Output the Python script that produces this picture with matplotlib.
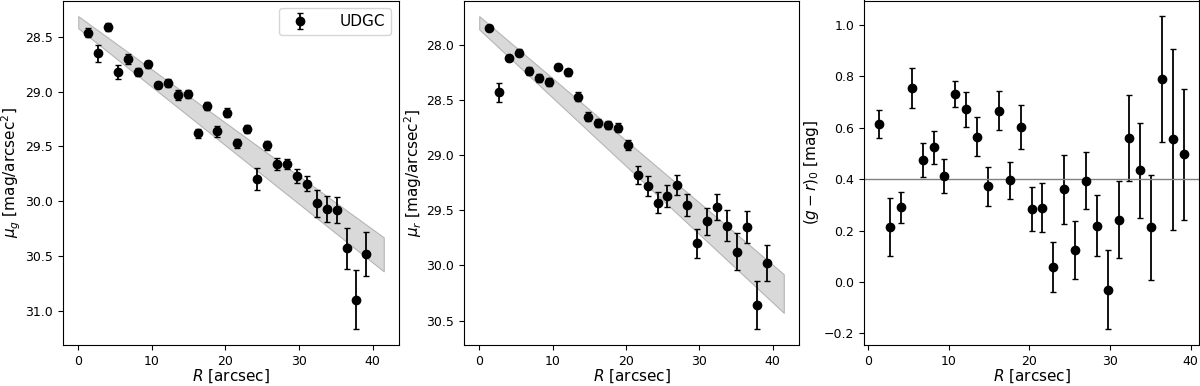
import matplotlib
matplotlib.use('agg')
import matplotlib.pyplot as plt

# radii (arcsec), shared by all three panels
R = [1.35, 2.7, 4.05, 5.4, 6.75, 8.1, 9.45, 10.8, 12.15, 13.5, 14.85, 16.2,
     17.55, 18.9, 20.25, 21.6, 22.95, 24.3, 25.65, 27.0, 28.35, 29.7, 31.05,
     32.4, 33.75, 35.1, 36.45, 37.8, 39.15]

mu_g = [28.46, 28.65, 28.41, 28.82, 28.70, 28.82, 28.75, 28.94, 28.92, 29.03,
        29.02, 29.38, 29.13, 29.36, 29.19, 29.47, 29.34, 29.80, 29.49, 29.66,
        29.66, 29.77, 29.84, 30.02, 30.07, 30.08, 30.43, 30.90, 30.48]
err_g = [0.038, 0.076, 0.038, 0.067, 0.047, 0.035, 0.035, 0.025, 0.035, 0.05,
         0.04, 0.04, 0.04, 0.05, 0.04, 0.04, 0.035, 0.10, 0.04, 0.055,
         0.05, 0.06, 0.07, 0.12, 0.12, 0.115, 0.19, 0.27, 0.20]

mu_r = [27.85, 28.43, 28.12, 28.07, 28.24, 28.30, 28.34, 28.20, 28.25, 28.47,
        28.65, 28.71, 28.73, 28.75, 28.91, 29.18, 29.28, 29.43, 29.37, 29.27,
        29.45, 29.80, 29.60, 29.47, 29.64, 29.875, 29.65, 30.36, 29.98]
err_r = [0.02, 0.085, 0.03, 0.03, 0.035, 0.035, 0.035, 0.03, 0.035, 0.04,
         0.04, 0.035, 0.035, 0.045, 0.045, 0.085, 0.087, 0.096, 0.1, 0.09,
         0.1, 0.13, 0.12, 0.12, 0.14, 0.165, 0.147, 0.22, 0.165]

gr = [0.615, 0.215, 0.290, 0.755, 0.474, 0.525, 0.413, 0.732, 0.672, 0.566,
      0.373, 0.667, 0.396, 0.603, 0.283, 0.289, 0.058, 0.361, 0.125, 0.394,
      0.219, -0.030, 0.241, 0.561, 0.435, 0.213, 0.790, 0.555, 0.497]
err_gr = [0.055, 0.113, 0.059, 0.079, 0.067, 0.064, 0.065, 0.052, 0.068, 0.077,
          0.076, 0.077, 0.072, 0.086, 0.086, 0.095, 0.099, 0.135, 0.113, 0.11,
          0.12, 0.155, 0.15, 0.168, 0.185, 0.205, 0.245, 0.354, 0.255]

# model bands (ends at R=0 and R=41.5)
R_band = [0.0, 41.5]
g_band_lo = [28.31, 30.33]
g_band_hi = [28.42, 30.64]
r_band_lo = [27.74, 30.08]
r_band_hi = [27.86, 30.43]
gr_mean = 0.4

plt.rcParams['font.family'] = ['DejaVu Sans']
plt.rcParams['xtick.labelsize'] = 9
plt.rcParams['ytick.labelsize'] = 9
plt.rcParams['axes.labelsize'] = 11

fig = plt.figure(figsize=(12, 3.86), dpi=100)
W, H = 1200.0, 386.0
bot = 41 / H
hgt = 344.5 / H
ax1 = fig.add_axes([63 / W, bot, 336 / W, hgt])
ax2 = fig.add_axes([464 / W, bot, 335 / W, hgt])
ax3 = fig.add_axes([864 / W, bot, 335 / W, hgt])

eb = dict(fmt='o', color='black', ms=6, elinewidth=1.3, capsize=2.5, capthick=1.0)

ax1.fill_between(R_band, g_band_lo, g_band_hi, facecolor='#d9d9d9',
                 edgecolor='#b5b5b5', lw=0.8)
ax1.errorbar(R, mu_g, yerr=err_g, label='UDGC', **eb)
ax1.invert_yaxis()
ax1.set_ylabel(r'$\mu_g$ [mag/arcsec$^2$]', labelpad=2)
ax1.legend(loc='upper right', fontsize=11, handletextpad=1.6)

ax2.fill_between(R_band, r_band_lo, r_band_hi, facecolor='#d9d9d9',
                 edgecolor='#b5b5b5', lw=0.8)
ax2.errorbar(R, mu_r, yerr=err_r, **eb)
ax2.invert_yaxis()
ax2.set_ylabel(r'$\mu_r$ [mag/arcsec$^2$]', labelpad=2)

ax3.errorbar(R, gr, yerr=err_gr, **eb)
ax3.axhline(gr_mean, color='gray', lw=1.0)
ax3.set_ylabel(r'$(g-r)_0$ [mag]', labelpad=2)

for ax in (ax1, ax2, ax3):
    ax.set_xlabel(r'$R$ [arcsec]', labelpad=0)

fig.savefig('out.png', dpi=100)
